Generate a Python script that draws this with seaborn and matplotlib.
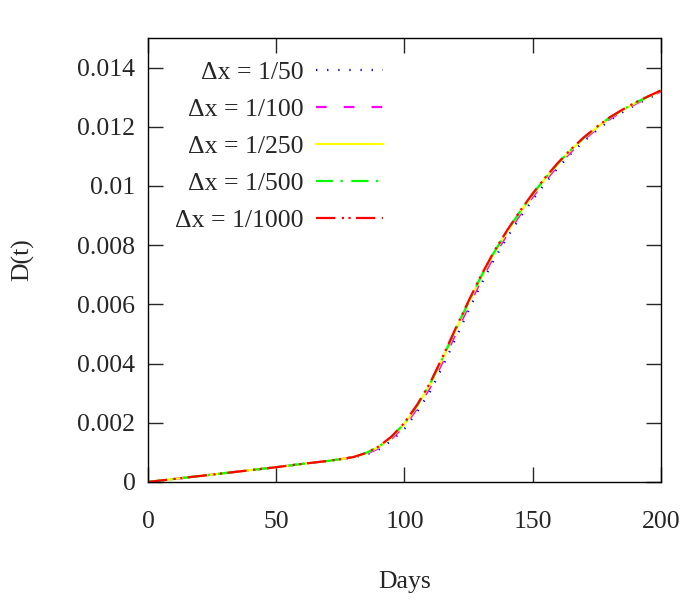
import matplotlib
matplotlib.use("Agg")
import matplotlib.pyplot as plt
import seaborn as sns
import pandas as pd

days = [0, 10, 20, 30, 40, 50, 60, 70, 75, 80, 85, 90, 95, 100, 105, 110, 115, 120,
        125, 130, 135, 140, 145, 150, 155, 160, 165, 170, 175, 180, 185, 190, 195, 200]

start = [0.0, 0.0001, 0.0002, 0.0003, 0.0004, 0.0005, 0.00061, 0.00071, 0.00077]

d_50 = start + [0.00083, 0.00092, 0.0011, 0.0014, 0.0018, 0.00238, 0.00306, 0.00392, 0.00486,
                0.0058, 0.0067, 0.00753, 0.00826, 0.00893, 0.00954, 0.01011, 0.01063, 0.0111,
                0.01152, 0.01188, 0.01222, 0.01249, 0.01274, 0.01296, 0.01316]
d_100 = start + [0.00084, 0.00094, 0.00114, 0.00146, 0.00189, 0.00249, 0.00319, 0.00407, 0.00501,
                 0.00594, 0.00683, 0.00765, 0.00836, 0.00902, 0.00963, 0.01019, 0.0107, 0.01116,
                 0.01157, 0.01193, 0.01226, 0.01253, 0.01277, 0.01299, 0.01319]
d_250 = start + [0.00084, 0.00097, 0.00118, 0.00151, 0.00196, 0.00257, 0.00329, 0.00418, 0.00513,
                 0.00605, 0.00693, 0.00774, 0.00845, 0.0091, 0.0097, 0.01026, 0.01076, 0.01122,
                 0.01162, 0.01197, 0.0123, 0.01256, 0.0128, 0.01301, 0.01322]
d_500 = start + [0.00084, 0.00098, 0.00119, 0.00153, 0.00198, 0.00259, 0.00332, 0.00421, 0.00516,
                 0.00608, 0.00697, 0.00777, 0.00847, 0.00913, 0.00973, 0.01028, 0.01078, 0.01123,
                 0.01163, 0.01199, 0.01231, 0.01257, 0.01281, 0.01302, 0.01323]
d_1000 = start + [0.00084, 0.00098, 0.0012, 0.00154, 0.002, 0.00262, 0.00335, 0.00425, 0.0052,
                  0.00612, 0.007, 0.0078, 0.0085, 0.00915, 0.00975, 0.0103, 0.0108, 0.01125,
                  0.01165, 0.012, 0.01232, 0.01258, 0.01282, 0.01303, 0.01323]

labels = ["Δx = 1/50", "Δx = 1/100", "Δx = 1/250", "Δx = 1/500", "Δx = 1/1000"]
colors = ["#0000ff", "#ff00ff", "#ffff00", "#00ff00", "#ff0000"]
dashes = [(0.6, 4.4), (4.8, 7.7), (), (7.7, 3.4, 1, 3.8), (8.7, 2.9, 1, 2, 1, 2.4)]

sns.set_style("ticks")
plt.rcParams["font.family"] = ["Liberation Serif", "DejaVu Serif"]
plt.rcParams["font.size"] = 18.5

fig = plt.figure(figsize=(7, 6), dpi=100)
ax = fig.add_axes([0.2114, 0.1967, 0.7329, 0.74])

for series, label, color, dash in zip([d_50, d_100, d_250, d_500, d_1000], labels, colors, dashes):
    df = pd.DataFrame({"Days": days, "D": series})
    sns.lineplot(data=df, x="Days", y="D", color=color, label=label, linewidth=1.6, ax=ax)
    ln = ax.get_lines()[-1]
    if dash:
        ln.set_dashes(dash)

ax.set_xlim(0, 200)
ax.set_ylim(0, 0.015)
ax.set_xticks([0, 50, 100, 150, 200])
ax.set_xticklabels(["0", "50", "100", "150", "200"])
ax.set_yticks([0, 0.002, 0.004, 0.006, 0.008, 0.01, 0.012, 0.014])
ax.set_yticklabels(["0", "0.002", "0.004", "0.006", "0.008", "0.01", "0.012", "0.014"])
ax.tick_params(direction="in", length=11, width=1, top=True, right=True, labelsize=18.5)
ax.tick_params(axis="x", pad=21)
ax.tick_params(axis="y", pad=9)
for s in ax.spines.values():
    s.set_linewidth(1)
    s.set_color("black")
ax.set_xlabel("Days", fontsize=18.5, labelpad=27)
ax.set_ylabel("D(t)", fontsize=18.5, labelpad=31)

# gnuplot style key: text right-aligned, sample on the right
leg = ax.legend(loc="upper right", bbox_to_anchor=(0.458, 0.949), frameon=False, markerfirst=False,
                handlelength=2.6, handletextpad=0.5, labelspacing=0.55, borderaxespad=0,
                borderpad=0, fontsize=18.5)

fig.savefig("out.png", dpi=100)
